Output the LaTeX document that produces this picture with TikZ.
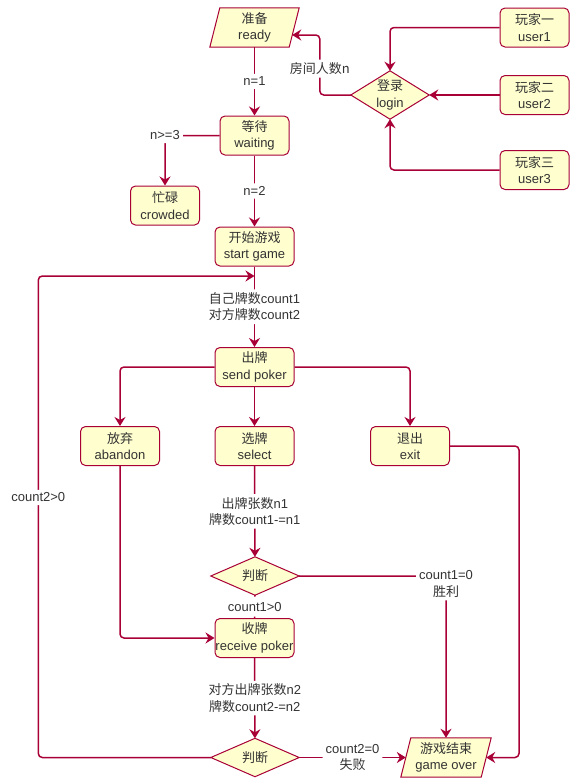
\documentclass[tikz,border=0pt]{standalone}
\usepackage{fontspec}
\setmainfont{Liberation Sans}
\newfontfamily\cjk{Noto Sans CJK SC}
\usetikzlibrary{arrows.meta,backgrounds}
\definecolor{pred}{HTML}{A80036}
\definecolor{pfill}{HTML}{FEFECE}
\definecolor{ptext}{HTML}{333333}
\begin{document}
\begin{tikzpicture}[x=1pt,y=-1pt,
  every node/.style={font=\fontsize{13}{16.5}\selectfont, text=ptext, align=center, inner sep=0pt},
  box/.style={draw=pred, fill=pfill, line width=1pt, rounded corners=5pt, minimum width=79pt, minimum height=39pt},
  pshape/.style={draw=pred, fill=pfill, line width=1pt},
  conn/.style={draw=pred, line width=1.5pt, rounded corners=4pt},
  arr/.style={conn, -{Stealth[length=9pt,width=11pt,inset=3pt]}},
  lbl/.style={fill=white, inner sep=3pt},
]
\useasboundingbox (0,0) rectangle (570,779);

% nodes
\node[minimum width=89pt, minimum height=39pt] (ready) at (254.5,27.5) {{\cjk 准备}\\ready};
\node[minimum width=78pt, minimum height=48pt] (login) at (390,95) {{\cjk 登录}\\login};
\node[box, minimum width=69pt] (user1) at (534.5,27.5) {{\cjk 玩家一}\\user1};
\node[box, minimum width=69pt] (user2) at (534.5,95) {{\cjk 玩家二}\\user2};
\node[box, minimum width=69pt] (user3) at (534.5,170) {{\cjk 玩家三}\\user3};
\node[box, minimum width=69pt] (waiting) at (254.5,135.5) {{\cjk 等待}\\waiting};
\node[box, minimum width=69pt] (crowded) at (165,205.5) {{\cjk 忙碌}\\crowded};
\node[box] (start) at (254.5,246.5) {{\cjk 开始游戏}\\start game};
\node[box] (send) at (254.5,367) {{\cjk 出牌}\\send poker};
\node[box] (abandon) at (120,446) {{\cjk 放弃}\\abandon};
\node[box] (select) at (254.5,446) {{\cjk 选牌}\\select};
\node[box] (exit) at (410,446) {{\cjk 退出}\\exit};
\node[minimum width=88pt, minimum height=38pt] (judge1) at (255,576) {\cjk 判断};
\node[box] (receive) at (254.5,638) {{\cjk 收牌}\\receive poker};
\node[minimum width=88pt, minimum height=38pt] (judge2) at (255,757.5) {\cjk 判断};
\node[minimum width=90pt, minimum height=39pt] (gameover) at (446,757.5) {{\cjk 游戏结束}\\game over};
\coordinate (merge) at (254.5,276);

\begin{scope}[on background layer]
\draw[pshape] (ready.south west) -- ([xshift=10pt]ready.north west) -- (ready.north east) -- ([xshift=-10pt]ready.south east) -- cycle;
\draw[pshape] (gameover.south west) -- ([xshift=10pt]gameover.north west) -- (gameover.north east) -- ([xshift=-10pt]gameover.south east) -- cycle;
\draw[pshape] (login.west) -- (login.north) -- (login.east) -- (login.south) -- cycle;
\draw[pshape] (judge1.west) -- (judge1.north) -- (judge1.east) -- (judge1.south) -- cycle;
\draw[pshape] (judge2.west) -- (judge2.north) -- (judge2.east) -- (judge2.south) -- cycle;
\end{scope}

% connectors
\draw[arr] (user1.west) -| (login.north);
\draw[arr] (user2.west) -- (login.east);
\draw[arr] (user3.west) -| (login.south);
\draw[arr] (login.west) -- ++(-31,0) |- node[lbl,pos=0.22]{\cjk 房间人数n} ([xshift=-7pt,yshift=-7.5pt]ready.east);
\draw[arr] (ready) -- node[lbl]{n=1} (waiting);
\draw[arr] (waiting.west) -| node[lbl,pos=0.5]{n>=3} (crowded.north);
\draw[arr] (waiting) -- node[lbl]{n=2} (start);
\draw[arr] (start) -- node[lbl]{{\cjk 自己牌数}count1\\{\cjk 对方牌数}count2} (send);
\draw[arr] (send.west) -| (abandon.north);
\draw[arr] (send) -- (select);
\draw[arr] (send.east) -| (exit.north);
\draw[arr] (select) -- node[lbl]{{\cjk 出牌张数}n1\\{\cjk 牌数}count1-=n1} (judge1);
\draw[arr] (judge1.east) -| node[lbl,pos=0.5,yshift=-8pt]{count1=0\\{\cjk 胜利}} (gameover.north);
\draw[conn] (judge1.south) -- node[lbl,minimum height=20pt]{count1>0} (receive.north);
\draw[arr] (abandon.south) |- (receive.west);
\draw[arr] (receive) -- node[lbl]{{\cjk 对方出牌张数}n2\\{\cjk 牌数}count2-=n2} (judge2);
\draw[arr] (judge2.east) -- node[lbl]{count2=0\\{\cjk 失败}} ([xshift=5pt]gameover.west);
\draw[arr] (judge2.west) -- ++(-172.5,0) |- node[lbl,pos=0.27]{count2>0} (merge);
\draw[arr] (exit.east) -- (519,446) |- ([xshift=-5pt]gameover.east);
\end{tikzpicture}
\end{document}
